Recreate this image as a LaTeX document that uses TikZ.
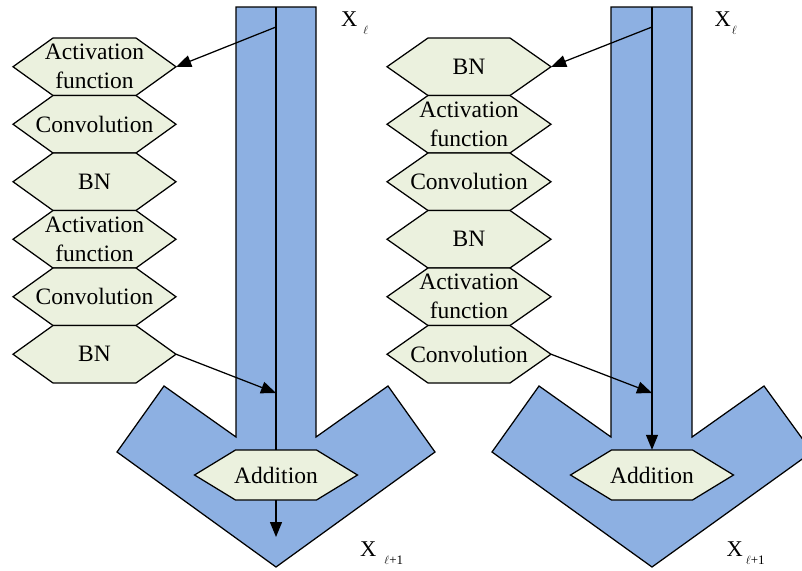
\documentclass[tikz,border=0pt]{standalone}
\usepackage{fontspec}
\setmainfont{Liberation Serif}
\usetikzlibrary{arrows.meta}

\definecolor{flowblue}{HTML}{8DB0E2}
\definecolor{cellgreen}{HTML}{EBF1DE}

\tikzset{
  outline/.style={draw=black,line width=1.25pt,line join=miter},
  flowbody/.style={outline,fill=flowblue},
  cellshape/.style={outline,fill=cellgreen},
  celltext/.style={rectangle,inner sep=0pt,align=center,
    font=\fontsize{23.5}{29}\selectfont},
  link/.style={line width=1.25pt,-{Triangle[length=15pt,width=12pt]}},
  plain/.style={line width=1.25pt},
  xlab/.style={font=\fontsize{22.5}{24}\selectfont,inner sep=0pt,anchor=base west}
}

% hexagonal cell: name, centre x, centre y, half width, half height, inset, text
\newcommand\cellhex[7]{%
  \path[cellshape] (#2-#4,#3) -- (#2-#4+#6,#3-#5) -- (#2+#4-#6,#3-#5)
     -- (#2+#4,#3) -- (#2+#4-#6,#3+#5) -- (#2-#4+#6,#3+#5) -- cycle;
  \node[celltext,minimum width=2*#4pt,minimum height=2*#5pt] (#1) at (#2,#3) {#7};
}
% small lowered index after a symbol: gap, text
\newcommand\subl[2]{\kern#1pt\raisebox{-8.5pt}{\fontsize{13}{13}\selectfont #2}}

\begin{document}
\begin{tikzpicture}[x=1pt,y=-1pt]
\useasboundingbox (0,0) rectangle (802,570);
\clip (0,0) rectangle (802,570);

% wide block arrows carrying the identity path
\path[flowbody] (236,7) -- (316,7) -- (316,437) -- (388,386) -- (435,452)
  -- (276,567) -- (117,452) -- (164,386) -- (236,437) -- cycle;
\path[flowbody] (611,7) -- (692,7) -- (692,437) -- (764,386) -- (812,452)
  -- (652,567) -- (492,452) -- (539,386) -- (611,437) -- cycle;

% left residual branch
\cellhex{la}{94.5}{66.75}{81.5}{28.75}{40}{Activation\\function}
\cellhex{lb}{94.5}{124.25}{81.5}{28.75}{40}{Convolution}
\cellhex{lc}{94.5}{181.75}{81.5}{28.75}{40}{BN}
\cellhex{ld}{94.5}{239.25}{81.5}{28.75}{40}{Activation\\function}
\cellhex{le}{94.5}{296.75}{81.5}{28.75}{40}{Convolution}
\cellhex{lf}{94.5}{354.25}{81.5}{28.75}{40}{BN}
\cellhex{laddn}{276}{475}{81.5}{25}{41}{Addition}

% right residual branch
\cellhex{ra}{469}{66.75}{82}{28.75}{41}{BN}
\cellhex{rb}{469}{124.25}{82}{28.75}{41}{Activation\\function}
\cellhex{rc}{469}{181.75}{82}{28.75}{41}{Convolution}
\cellhex{rd}{469}{239.25}{82}{28.75}{41}{BN}
\cellhex{re}{469}{296.75}{82}{28.75}{41}{Activation\\function}
\cellhex{rf}{469}{354.25}{82}{28.75}{41}{Convolution}
\cellhex{raddn}{652}{475}{81.5}{25}{41}{Addition}

% connector end points on the identity paths
\coordinate (ltop) at (276,7);
\coordinate (lsrc) at (276,27);
\coordinate (ljoin) at (276,393);
\coordinate (lend) at (276,537);
\coordinate (rtop) at (652,7);
\coordinate (rsrc) at (652,27);
\coordinate (rjoin) at (652,393);

% left connectors
\draw[plain] (ltop) -- (laddn.north);
\draw[link] (laddn.south) -- (lend);
\draw[link] (lsrc) -- (la.east);
\draw[link] (lf.east) -- (ljoin);

% right connectors
\draw[link] (rtop) -- (raddn.north);
\draw[link] (rsrc) -- (ra.east);
\draw[link] (rf.east) -- (rjoin);

% input and output labels
\node[xlab] (lxin) at (341,26) {X\subl{6}{$\ell$}};
\node[xlab] (lxout) at (360,556) {X\subl{8}{$\ell$+1}};
\node[xlab] (rxin) at (714.5,26) {X\subl{1}{$\ell$}};
\node[xlab] (rxout) at (726.5,556) {X\subl{3}{$\ell$+1}};
\end{tikzpicture}
\end{document}
